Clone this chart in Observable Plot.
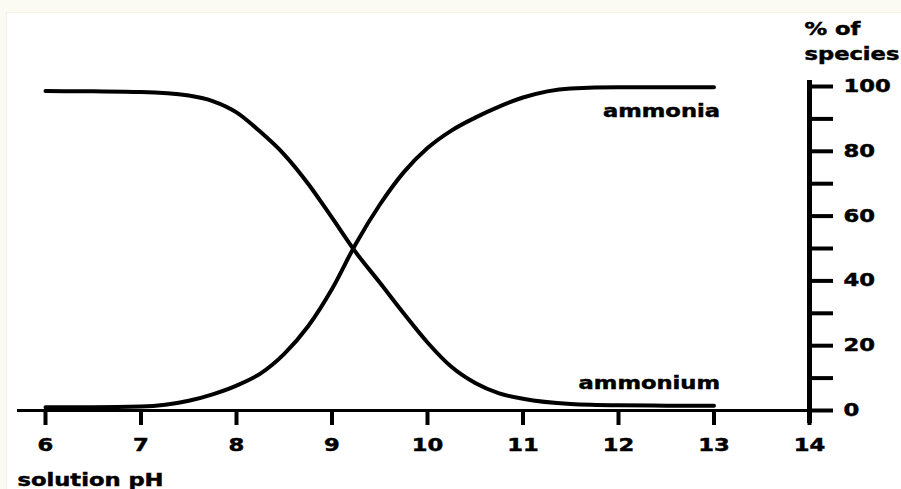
<!DOCTYPE html>
<html>
<head>
<meta charset="utf-8">
<script src="https://cdn.jsdelivr.net/npm/d3@7"></script>
<script src="https://cdn.jsdelivr.net/npm/@observablehq/plot@0.6"></script>
<style>
  html, body { margin: 0; padding: 0; background: #fcfbf3; }
  #wrap { position: relative; width: 901px; height: 489px; overflow: hidden; }
  .paper { position: absolute; left: 6px; top: 12px; right: 0; bottom: 0; background: #ffffff;
           border-left: 1px solid #f3f2e4; border-top: 1px solid #f3f2e4; }
  #chart { position: absolute; left: 0; top: 0; }
  #chart svg text { stroke: #000; stroke-width: 0.45px; }
</style>
</head>
<body>
<div id="wrap">
  <div class="paper"></div>
  <div id="chart"></div>
</div>
<script>
// Solution pH at which the species fractions are read
const pH = [6, 6.5, 7, 7.5, 7.75, 8, 8.25, 8.5, 8.75, 9, 9.25, 9.5, 9.75, 10, 10.25, 10.5, 10.75, 11, 11.5, 12, 12.5, 13];
// % of total ammonia nitrogen present as free ammonia (NH3)
const ammonia = [1, 1, 1.2, 3, 5, 7.7, 11.4, 17.5, 26, 37.5, 51.5, 63.5, 73.5, 81, 86.4, 90.4, 93.8, 96.6, 99.4, 99.8, 99.8, 99.8];
// % present as ammonium ion (NH4+)
const ammonium = [98.6, 98.5, 98.3, 97.2, 95.5, 92, 86, 79, 70, 59.5, 48.8, 39.5, 30, 21, 13.5, 8.5, 5.3, 3.6, 2, 1.6, 1.5, 1.5];

const speciesNames = ["ammonia", "ammonium"];
const xTicks = [6, 7, 8, 9, 10, 11, 12, 13, 14];
const yMajorTicks = [0, 20, 40, 60, 80, 100];
const yMinorTicks = [10, 30, 50, 70, 90];
const xTitle = "solution pH";
const yTitle = "% of\nspecies";

// Long table for the line mark
const rows = pH.flatMap((p, i) => [
  {pH: p, pct: ammonia[i], species: speciesNames[0]},
  {pH: p, pct: ammonium[i], species: speciesNames[1]}
]);

const chart = Plot.plot({
  width: 901,
  height: 489,
  marginLeft: 45,
  marginRight: 92,
  marginTop: 86,
  marginBottom: 79,
  x: {domain: [6, 14]},
  y: {domain: [0, 100]},
  style: {
    fontFamily: "'DejaVu Sans', sans-serif",
    fontWeight: "bold",
    fontSize: "17px",
    color: "#000",
    background: "transparent",
    overflow: "visible"
  },
  marks: [
    // baseline (x axis line) running a little past both ends
    Plot.ruleY([0], {stroke: "#000", strokeWidth: 3, insetLeft: -28, insetRight: -24}),
    // vertical % axis at pH 14, poking out above 100 and below 0
    Plot.ruleX([14], {y1: 100, y2: 0, stroke: "#000", strokeWidth: 5, insetTop: -6, insetBottom: -13}),
    Plot.axisX({ticks: xTicks, tickSize: 15, tickPadding: 13, strokeWidth: 4, label: null, tickFormat: d => d}),
    Plot.axisY({anchor: "right", ticks: yMajorTicks, tickSize: 23, tickPadding: 11, strokeWidth: 4, label: null, tickFormat: d => d}),
    Plot.axisY({anchor: "right", ticks: yMinorTicks, tickSize: 23, strokeWidth: 4, label: null, tickFormat: null, text: null}),
    // species curves
    Plot.line(rows, {x: "pH", y: "pct", z: "species", stroke: "#000", strokeWidth: 4, curve: "monotone-x"}),
    // curve labels beside the right-hand ends
    Plot.text(rows.filter(d => d.species === speciesNames[0]), Plot.selectLast({x: "pH", y: "pct", text: "species", textAnchor: "end", dx: 6, dy: 24})),
    Plot.text(rows.filter(d => d.species === speciesNames[1]), Plot.selectLast({x: "pH", y: "pct", text: "species", textAnchor: "end", dx: 6, dy: -22})),
    // axis titles
    Plot.text([yTitle], {frameAnchor: "top-right", textAnchor: "start", lineAnchor: "top", lineHeight: 1.45, dx: -5, dy: -69}),
    Plot.text([xTitle], {frameAnchor: "bottom-left", textAnchor: "start", lineAnchor: "middle", dx: -28, dy: 70})
  ]
});

document.getElementById("chart").append(chart);

// Widen the lettering into a heavy extended face
const STRETCH = 1.33;
chart.querySelectorAll("text").forEach(t => {
  const parts = t.querySelectorAll("tspan");
  const targets = parts.length ? Array.from(parts) : [t];
  targets.forEach(el => {
    const w = el.getComputedTextLength();
    if (w > 0) {
      el.setAttribute("textLength", (w * STRETCH).toFixed(1));
      el.setAttribute("lengthAdjust", "spacingAndGlyphs");
    }
  });
});
</script>
</body>
</html>
